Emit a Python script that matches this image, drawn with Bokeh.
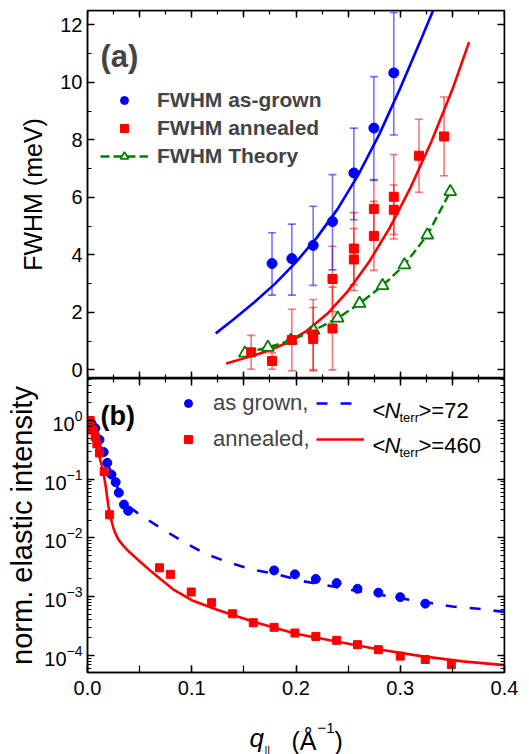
from bokeh.plotting import figure
from bokeh.models import (Range1d, LinearAxis, LogAxis, SingleIntervalTicker, FixedTicker,
                          ColumnDataSource, Legend, LegendItem, Label, NumeralTickFormatter,
                          CustomJSTickFormatter)
from bokeh.layouts import column
from bokeh.embed import file_html
from bokeh.resources import INLINE

FONT = "Liberation Sans"
BLUE = "#0000FF"
RED = "#FF0000"
GREEN = "#008000"

# ---------------- panel (a): FWHM ----------------
grown_q = [0.177, 0.196, 0.2165, 0.235, 0.2555, 0.2747, 0.2938]
grown_fwhm = [3.70, 3.87, 4.33, 5.16, 6.85, 8.41, 10.33]
grown_hi = [4.77, 5.07, 5.69, 6.79, 8.41, 10.20, 12.43]
grown_lo = [2.60, 2.60, 2.94, 3.48, 5.22, 6.59, 8.17]

ann_q = [0.157, 0.177, 0.196, 0.2165, 0.2165, 0.235, 0.235, 0.2555, 0.2555,
         0.2747, 0.2747, 0.2938, 0.2938, 0.318, 0.342]
ann_fwhm = [0.61, 0.31, 1.04, 1.23, 1.07, 3.16, 1.44, 4.22, 3.84,
            5.60, 4.66, 6.02, 5.57, 7.45, 8.12]
ann_hi = [1.20, 0.60, 2.11, 2.45, 2.17, 4.30, 2.88, 5.47, 4.92,
          6.62, 5.86, 7.49, 6.43, 8.72, 9.49]
ann_lo = [0.02, 0.02, -0.03, 0.01, -0.03, 2.02, 0.00, 2.97, 2.76,
          4.58, 3.46, 4.55, 4.71, 6.18, 6.75]

theory_q = [0.151, 0.173, 0.195, 0.217, 0.240, 0.261, 0.283, 0.304, 0.326, 0.348]
theory_fwhm = [0.58, 0.78, 1.03, 1.37, 1.80, 2.31, 2.93, 3.65, 4.69, 6.20]

fit_grown_q = [0.123, 0.14, 0.16, 0.18, 0.20, 0.22, 0.24, 0.26, 0.28, 0.30, 0.32, 0.335]
fit_grown = [1.27, 1.75, 2.35, 3.00, 3.75, 4.60, 5.60, 6.80, 8.20, 9.80, 11.50, 12.80]

fit_ann_q = [0.133, 0.15, 0.17, 0.19, 0.21, 0.23, 0.25, 0.27, 0.29, 0.31, 0.33, 0.35, 0.366]
fit_ann = [0.22, 0.40, 0.62, 0.92, 1.35, 1.95, 2.75, 3.75, 4.95, 6.35, 7.95, 9.75, 11.40]

# ---------------- panel (b): elastic intensity ----------------
grown_int_q = [0.000, 0.004, 0.0075, 0.0115, 0.0155, 0.019, 0.023, 0.027, 0.030, 0.035, 0.039,
               0.179, 0.199, 0.219, 0.239, 0.259, 0.279, 0.300, 0.324]
grown_int = [1.0, 0.88, 0.74, 0.47, 0.29, 0.19, 0.12, 0.089, 0.059, 0.037, 0.029,
             0.0028, 0.0024, 0.0020, 0.0017, 0.00136, 0.00117, 0.00098, 0.00076]

ann_int_q = [0.0026, 0.0048, 0.0074, 0.009, 0.0115, 0.016, 0.0212, 0.069, 0.0795, 0.0995,
             0.119, 0.139, 0.159, 0.179, 0.199, 0.219, 0.239, 0.259, 0.279, 0.300, 0.324, 0.349]
ann_int = [1.0, 0.69, 0.53, 0.40, 0.28, 0.135, 0.0248, 0.0031, 0.0024, 0.0012,
           0.00079, 0.00051, 0.00036, 0.00030, 0.00024, 0.00021, 0.00018, 0.000152,
           0.000125, 0.000097, 0.000085, 0.000070]

model_grown_q = [0.000, 0.010, 0.020, 0.030, 0.040, 0.050, 0.070, 0.090, 0.112, 0.134, 0.158,
                 0.182, 0.206, 0.230, 0.255, 0.277, 0.303, 0.325, 0.350, 0.375, 0.400]
model_grown = [1.0, 0.45, 0.17, 0.065, 0.034, 0.025, 0.0148, 0.0090, 0.0055, 0.0039, 0.0029,
               0.0024, 0.00184, 0.00155, 0.00128, 0.0011, 0.00092, 0.0008, 0.00068, 0.00062, 0.00055]

model_ann_q = [0.000, 0.003, 0.006, 0.009, 0.012, 0.015, 0.0175, 0.020, 0.0225, 0.025, 0.0275,
               0.030, 0.035, 0.040, 0.050, 0.060, 0.070, 0.083, 0.100, 0.125, 0.160, 0.200,
               0.240, 0.280, 0.320, 0.360, 0.400]
model_ann = [1.14, 0.85, 0.55, 0.36, 0.22, 0.14, 0.075, 0.035, 0.021, 0.0145, 0.0112,
             0.0092, 0.0072, 0.0058, 0.0040, 0.0028, 0.0020, 0.0013, 0.00087, 0.00059, 0.00037,
             0.000234, 0.00017, 0.000126, 0.000097, 0.000079, 0.000068]

log_ticks = [1e-4, 1e-3, 1e-2, 1e-1, 1.0]

X0, X1 = 0.0, 0.4
YA0, YA1 = -0.3, 12.5
YB0, YB1 = 5.1e-5, 5.2

BLANK = CustomJSTickFormatter(code="return ''")


def style_axis(ax, tick_in=7, minor_in=4, labels=True, size="20px"):
    ax.major_tick_in = tick_in
    ax.major_tick_out = 0
    ax.minor_tick_in = minor_in
    ax.minor_tick_out = 0
    ax.axis_line_color = "black"
    ax.axis_line_width = 1.5
    ax.major_tick_line_color = "black"
    ax.major_tick_line_width = 1.5
    ax.minor_tick_line_color = "black"
    ax.minor_tick_line_width = 1.2
    ax.major_label_text_font = FONT
    ax.major_label_text_color = "black"
    ax.axis_label_text_font = FONT
    ax.axis_label_text_font_style = "normal"
    ax.axis_label_text_color = "black"
    if labels:
        ax.major_label_text_font_size = size
    else:
        ax.formatter = BLANK
        ax.major_label_text_font_size = "0px"
        ax.major_label_standoff = 0


# ================= top figure =================
p1 = figure(width=529, height=378, output_backend="svg", toolbar_location=None,
            x_range=Range1d(X0, X1), y_range=Range1d(YA0, YA1),
            min_border_left=87, min_border_right=25, min_border_top=10, min_border_bottom=0,
            x_axis_location=None, y_axis_location=None)
p1.grid.visible = False
p1.outline_line_color = "black"
p1.outline_line_width = 1.5
p1.background_fill_color = "white"
p1.border_fill_color = "white"

ya = LinearAxis(ticker=SingleIntervalTicker(interval=2, num_minor_ticks=2), axis_label="FWHM (meV)")
style_axis(ya)
ya.axis_label_text_font_size = "25px"
ya.axis_label_standoff = 10
ya.major_label_standoff = 5
p1.add_layout(ya, "left")
yr = LinearAxis(ticker=SingleIntervalTicker(interval=2, num_minor_ticks=2), fixed_location=X1)
style_axis(yr, labels=False)
p1.add_layout(yr, "right")
for place, loc in (("below", YA0), ("above", YA1)):
    xa = LinearAxis(ticker=SingleIntervalTicker(interval=0.05, num_minor_ticks=2), fixed_location=loc)
    style_axis(xa, labels=False)
    p1.add_layout(xa, place)

# error bars
gsrc = ColumnDataSource(dict(q=grown_q, y=grown_fwhm, hi=grown_hi, lo=grown_lo))
asrc = ColumnDataSource(dict(q=ann_q, y=ann_fwhm, hi=ann_hi, lo=ann_lo))
for src, col in ((asrc, RED), (gsrc, BLUE)):
    p1.segment(x0="q", y0="lo", x1="q", y1="hi", source=src, line_color=col,
               line_alpha=0.55, line_width=1.6)
    p1.scatter(x="q", y="hi", source=src, marker="dash", size=8, line_color=col,
               line_alpha=0.55, line_width=1.6)
    p1.scatter(x="q", y="lo", source=src, marker="dash", size=8, line_color=col,
               line_alpha=0.55, line_width=1.6)

p1.line(fit_grown_q, fit_grown, line_color=BLUE, line_width=2.6)
p1.line(fit_ann_q, fit_ann, line_color=RED, line_width=2.6)
th_line = p1.line(theory_q, theory_fwhm, line_color=GREEN, line_width=2.4, line_dash="9 4")
th_pts = p1.scatter(theory_q, theory_fwhm, marker="triangle", size=12, line_color=GREEN,
                    line_width=1.8, fill_color="white")
g_pts = p1.scatter(x="q", y="y", source=gsrc, marker="circle", size=10, color=BLUE)
a_pts = p1.scatter(x="q", y="y", source=asrc, marker="square", size=9, color=RED)

leg1 = Legend(items=[LegendItem(label="FWHM as-grown", renderers=[g_pts]),
                     LegendItem(label="FWHM annealed", renderers=[a_pts]),
                     LegendItem(label="FWHM Theory", renderers=[th_line, th_pts])],
              location=(13, 210), padding=0, margin=0, spacing=4,
              glyph_width=48, glyph_height=20, label_height=20, label_standoff=9,
              label_text_font=FONT, label_text_font_size="21px", label_text_font_style="bold",
              border_line_alpha=0, background_fill_alpha=0)
p1.add_layout(leg1)
p1.add_layout(Label(x=13, y=322, x_units="screen", y_units="screen", text="(a)",
                    text_font=FONT, text_font_size="31px", text_font_style="bold",
                    text_baseline="alphabetic"))

# ================= bottom figure =================
p2 = figure(width=529, height=330, output_backend="svg", toolbar_location=None,
            x_range=p1.x_range, y_range=Range1d(YB0, YB1), y_axis_type="log",
            min_border_left=87, min_border_right=25, min_border_top=0, min_border_bottom=36,
            x_axis_location=None, y_axis_location=None)
p2.grid.visible = False
p2.outline_line_color = "black"
p2.outline_line_width = 1.5
p2.background_fill_color = "white"
p2.border_fill_color = "white"

minor_log = [m * 10.0 ** e for e in range(-5, 1) for m in range(2, 10)]
yl = LogAxis(ticker=FixedTicker(ticks=log_ticks, minor_ticks=minor_log),
             axis_label="norm. elastic intensity")
style_axis(yl)
yl.axis_label_text_font_size = "29px"
yl.axis_label_standoff = 3
yl.major_label_standoff = 5
p2.add_layout(yl, "left")
ylr = LinearAxis(ticker=FixedTicker(ticks=log_ticks, minor_ticks=minor_log), fixed_location=X1)
style_axis(ylr, labels=False)
p2.add_layout(ylr, "right")
xb = LinearAxis(ticker=SingleIntervalTicker(interval=0.1, num_minor_ticks=2),
                formatter=NumeralTickFormatter(format="0.0"))
style_axis(xb, minor_in=7)
xb.major_label_standoff = 8
p2.add_layout(xb, "below")
xt = LinearAxis(ticker=SingleIntervalTicker(interval=0.05, num_minor_ticks=2), fixed_location=YB1)
style_axis(xt, labels=False)
p2.add_layout(xt, "above")

m_g = p2.line(model_grown_q, model_grown, line_color=BLUE, line_width=2.6, line_dash="11 13")
m_a = p2.line(model_ann_q, model_ann, line_color=RED, line_width=2.6)
s_g = p2.scatter(grown_int_q, grown_int, marker="circle", size=9, color=BLUE)
s_a = p2.scatter(ann_int_q, ann_int, marker="square", size=8, color=RED)

leg2 = Legend(items=[LegendItem(label="as grown,", renderers=[s_g]),
                     LegendItem(label="annealed,", renderers=[s_a])],
              location=(91, 220), padding=0, margin=0, spacing=10,
              glyph_width=20, glyph_height=22, label_height=22, label_standoff=15,
              label_text_font=FONT, label_text_font_size="22px",
              border_line_alpha=0, background_fill_alpha=0)
leg3 = Legend(items=[LegendItem(label="-", renderers=[m_g]),
                     LegendItem(label="-", renderers=[m_a])],
              location=(229, 220), padding=0, margin=0, spacing=10,
              glyph_width=48, glyph_height=22, label_height=22, label_standoff=0,
              label_text_font=FONT, label_text_font_size="22px", label_text_alpha=0,
              border_line_alpha=0, background_fill_alpha=0)
p2.add_layout(leg2)
p2.add_layout(leg3)


def lab(fig, x, y, text, size, style="normal"):
    fig.add_layout(Label(x=x, y=y, x_units="screen", y_units="screen", text=text,
                         text_font=FONT, text_font_size=size, text_font_style=style,
                         text_baseline="alphabetic", text_color="black"))


lab(p2, 13, 257, "(b)", "27px", "bold")
for base, sub, tail in ((262, 255, ">=72"), (227, 220, ">=460")):
    lab(p2, 285, base, "<", "22px")
    lab(p2, 297, base, "N", "22px", "italic")
    lab(p2, 312, sub, "terr", "13px")
    lab(p2, 331, base, tail, "22px")

# ================= x-axis title strip =================
p3 = figure(width=529, height=46, output_backend="svg", toolbar_location=None,
            x_range=Range1d(0, 1), y_range=Range1d(0, 1),
            min_border_left=87, min_border_right=25, min_border_top=0, min_border_bottom=0,
            x_axis_location=None, y_axis_location=None)
p3.grid.visible = False
p3.outline_line_color = None
p3.background_fill_color = "white"
p3.border_fill_color = "white"

lab(p3, 162, 17, "q", "26px", "italic")
lab(p3, 177, 5, "||", "11px")
lab(p3, 204, 14, "(Å", "25px")
lab(p3, 230, 27, "\u22121", "15px")
lab(p3, 247, 14, ")", "25px")

layout = column(p1, p2, p3, spacing=0)
open("out.html", "w").write(file_html(layout, INLINE))
